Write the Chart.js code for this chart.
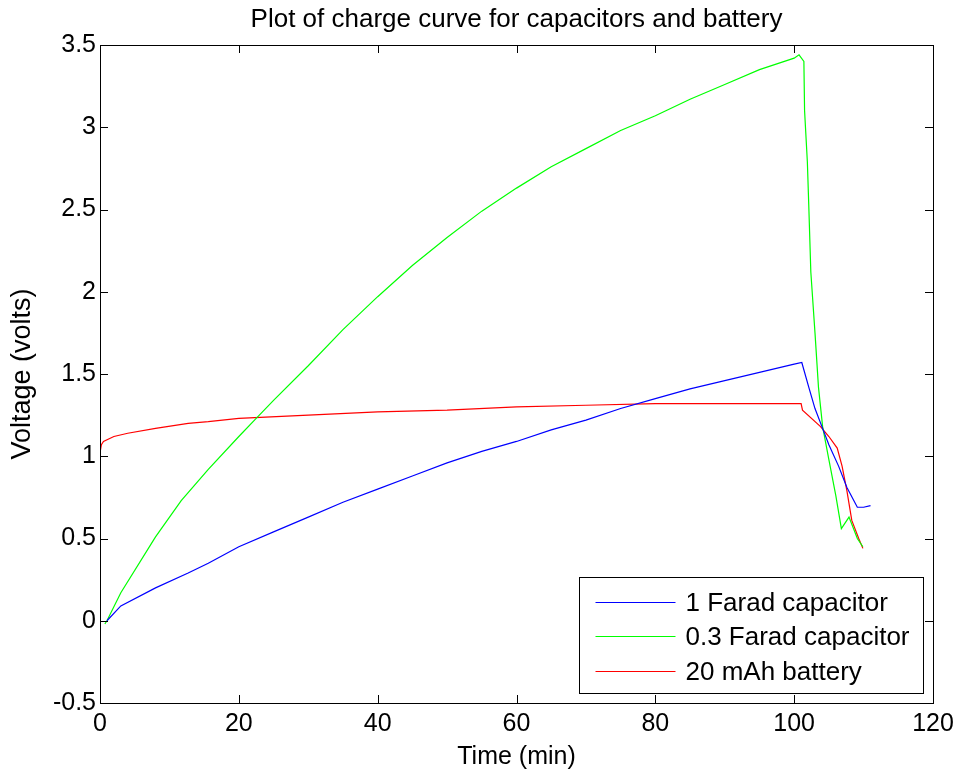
<!DOCTYPE html>
<html>
<head>
<meta charset="utf-8">
<script src="https://cdn.jsdelivr.net/npm/chart.js@4"></script>
<style>
  html, body { margin: 0; padding: 0; background: #fff; }
  #wrap { width: 963px; height: 776px; }
</style>
</head>
<body>
<div id="wrap"><canvas id="chart" width="963" height="776"></canvas></div>
<script>
// values (time in minutes, voltage in volts)
const farad1Time = [1, 3, 8, 12.7, 15.6, 20, 25, 30, 35, 40, 45, 50, 55, 60, 65, 70, 75, 80, 85, 90, 95, 100, 101.1, 102.1, 103, 104, 105, 106.4, 107.6, 109.1, 110, 111];
const farad1Volts = [0.0, 0.09, 0.20, 0.29, 0.35, 0.45, 0.54, 0.63, 0.72, 0.80, 0.88, 0.96, 1.03, 1.09, 1.16, 1.22, 1.29, 1.35, 1.41, 1.46, 1.51, 1.56, 1.57, 1.42, 1.29, 1.18, 1.07, 0.94, 0.81, 0.69, 0.69, 0.70];

const farad03Time = [0.7, 1, 3, 8, 11.7, 15.6, 20, 22.5, 25, 30, 35, 40, 45, 50, 55, 60, 65, 70, 75, 80, 85, 90, 95, 100, 100.7, 101.4, 101.5, 101.9, 102.1, 102.4, 103, 103.5, 104.1, 105, 106, 106.8, 107.9, 109.1, 109.9];
const farad03Volts = [-0.02, 0.0, 0.17, 0.51, 0.73, 0.92, 1.12, 1.23, 1.34, 1.55, 1.77, 1.97, 2.16, 2.33, 2.49, 2.63, 2.76, 2.87, 2.98, 3.07, 3.17, 3.26, 3.35, 3.42, 3.44, 3.40, 3.10, 2.79, 2.53, 2.12, 1.75, 1.42, 1.18, 0.98, 0.76, 0.56, 0.63, 0.50, 0.45];

const batteryTime = [0, 0.2, 0.5, 2, 4, 8, 12.7, 15.6, 20, 30, 40, 50, 60, 70, 80, 90, 100, 101, 101.2, 103.8, 105, 106.2, 106.9, 107.6, 108.3, 109.3, 109.9];
const batteryVolts = [1.02, 1.07, 1.09, 1.12, 1.14, 1.17, 1.20, 1.21, 1.23, 1.25, 1.27, 1.28, 1.30, 1.31, 1.32, 1.32, 1.32, 1.32, 1.28, 1.18, 1.12, 1.05, 0.94, 0.79, 0.61, 0.50, 0.44];

const seriesNames = ['1 Farad capacitor', '0.3 Farad capacitor', '20 mAh battery'];
const seriesColors = ['#0000ff', '#00ff00', '#ff0000'];

const titleText = 'Plot of charge curve for capacitors and battery';
const xLabel = 'Time (min)';
const yLabel = 'Voltage (volts)';

const FONT = '"Liberation Sans", Arial, sans-serif';

function toPoints(xs, ys) {
    return xs.map((x, i) => ({ x: x, y: ys[i] }));
}

// box round the axes with inward ticks, title on top, legend inside (matlab look)
const matlabFrame = {
    id: 'matlabFrame',
    afterDatasetsDraw(chart) {
        const ctx = chart.ctx;
        const a = chart.chartArea;
        const xs = chart.scales.x;
        const ys = chart.scales.y;
        ctx.save();
        ctx.strokeStyle = '#000';
        ctx.lineWidth = 1;
        ctx.beginPath();
        xs.ticks.forEach(t => {
            const px = Math.round(xs.getPixelForValue(t.value)) + 0.5;
            ctx.moveTo(px, a.bottom); ctx.lineTo(px, a.bottom - 8);
            ctx.moveTo(px, a.top); ctx.lineTo(px, a.top + 8);
        });
        ys.ticks.forEach(t => {
            const py = Math.round(ys.getPixelForValue(t.value)) + 0.5;
            ctx.moveTo(a.left, py); ctx.lineTo(a.left + 8, py);
            ctx.moveTo(a.right, py); ctx.lineTo(a.right - 8, py);
        });
        ctx.stroke();
        ctx.strokeRect(Math.round(a.left) + 0.5, Math.round(a.top) + 0.5,
            Math.round(a.right - a.left), Math.round(a.bottom - a.top));

        // legend
        ctx.font = '26px ' + FONT;
        const sets = chart.data.datasets;
        const widest = Math.max(...sets.map(d => ctx.measureText(d.label).width));
        const boxW = Math.round(16 + 80 + 10 + widest + 14);
        const boxH = 116;
        const bx = Math.round(a.right - 10 - boxW) + 0.5;
        const by = Math.round(a.bottom - 10 - boxH) + 0.5;
        ctx.fillStyle = '#fff';
        ctx.fillRect(bx, by, boxW, boxH);
        ctx.strokeStyle = '#000';
        ctx.strokeRect(bx, by, boxW, boxH);
        sets.forEach((d, i) => {
            const rowY = Math.round(by + 24 + i * 34.5) + 0.5;
            ctx.strokeStyle = seriesColors[i];
            ctx.lineWidth = 1;
            ctx.beginPath();
            ctx.moveTo(bx + 16, rowY);
            ctx.lineTo(bx + 96, rowY);
            ctx.stroke();
            ctx.fillStyle = '#000';
            ctx.textBaseline = 'middle';
            ctx.textAlign = 'left';
            ctx.fillText(d.label, bx + 106, rowY + 1);
        });

        // title
        ctx.font = '26px ' + FONT;
        ctx.fillStyle = '#000';
        ctx.textAlign = 'center';
        ctx.textBaseline = 'middle';
        ctx.fillText(titleText, (a.left + a.right) / 2, 20);
        ctx.restore();
    }
};

const ctx = document.getElementById('chart').getContext('2d');
new Chart(ctx, {
    type: 'line',
    data: {
        datasets: [
            { label: seriesNames[0], data: toPoints(farad1Time, farad1Volts), borderColor: seriesColors[0] },
            { label: seriesNames[1], data: toPoints(farad03Time, farad03Volts), borderColor: seriesColors[1] },
            { label: seriesNames[2], data: toPoints(batteryTime, batteryVolts), borderColor: seriesColors[2] }
        ]
    },
    options: {
        responsive: false,
        animation: false,
        layout: { padding: { top: 45, right: 30, left: 0, bottom: 0 } },
        elements: {
            line: { borderWidth: 1.2, tension: 0, fill: false },
            point: { radius: 0, hoverRadius: 0 }
        },
        plugins: {
            legend: { display: false },
            title: { display: false },
            tooltip: { enabled: false }
        },
        scales: {
            x: {
                type: 'linear',
                min: 0, max: 120,
                grid: { display: false, drawTicks: false },
                border: { display: false },
                ticks: { stepSize: 20, padding: 6, color: '#000', font: { family: FONT, size: 25 } },
                title: { display: true, text: xLabel, color: '#000', font: { family: FONT, size: 25 }, padding: { top: 0, bottom: 4 } },
                afterFit: s => { s.height = 73; }
            },
            y: {
                min: -0.5, max: 3.5,
                grid: { display: false, drawTicks: false },
                border: { display: false },
                ticks: {
                    stepSize: 0.5, padding: 4, color: '#000', font: { family: FONT, size: 25 },
                    callback: v => String(Number(v.toFixed(2)))
                },
                title: { display: true, text: yLabel, color: '#000', font: { family: FONT, size: 27 }, padding: { top: 6, bottom: 0 } },
                afterFit: s => { s.width = 100; }
            }
        }
    },
    plugins: [matlabFrame]
});
</script>
</body>
</html>
